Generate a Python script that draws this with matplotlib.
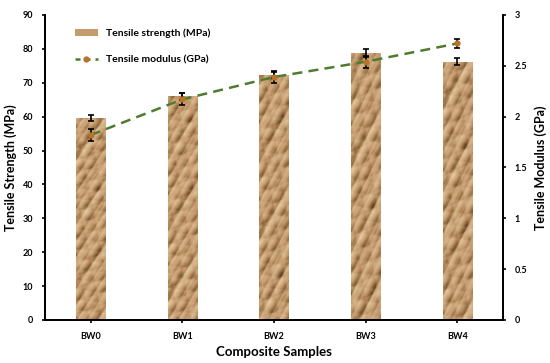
import numpy as np
import matplotlib.pyplot as plt
from matplotlib.lines import Line2D
from matplotlib.patches import Patch
from matplotlib.colors import LinearSegmentedColormap

samples = ["BW0", "BW1", "BW2", "BW3", "BW4"]
strength = [59.5, 66.0, 72.2, 78.7, 76.2]
strength_err = [0.9, 1.1, 0.9, 1.2, 1.1]
modulus = [1.82, 2.17, 2.39, 2.54, 2.72]
modulus_err = [0.06, 0.06, 0.06, 0.06, 0.04]

plt.rcParams['font.family'] = ['Lato', 'DejaVu Sans']
plt.rcParams['font.weight'] = 'bold'

fig = plt.figure(figsize=(5.5, 3.63), dpi=100)
ax1 = fig.add_axes([0.0818, 0.1185, 0.8327, 0.8402])
ax2 = ax1.twinx()

# crumpled paper look for the bars (pure styling, built from sines)
dirs = [(0.9, 0.4, 0.3), (-0.5, 0.8, 1.7), (0.3, -1.1, 2.9), (1.3, 0.9, 0.8),
        (-1.0, -0.6, 4.1), (0.6, 1.5, 5.3), (1.7, -0.3, 0.2), (-0.2, 1.9, 3.3),
        (2.1, 1.2, 1.1), (-1.6, 1.4, 2.2)]


def paper_texture(offset):
    yy, xx = np.mgrid[0:300, 0:40] / 10.0
    yy = yy + offset
    h = np.zeros_like(xx)
    for a, b, p in dirs:
        h += np.abs(np.sin(a * xx * 1.1 + b * yy * 1.1 + p))
    s = np.gradient(h, axis=1) + 0.8 * np.gradient(h, axis=0)
    return (s - s.min()) / (s.max() - s.min())


paper = LinearSegmentedColormap.from_list(
    "paper", ["#5e3f22", "#9c7448", "#c49c70", "#d6b48a", "#e8cca5"])

x = np.arange(len(samples))
width = 0.32
bars = ax1.bar(x, strength, width, color="#cfa97c", zorder=2)
for i, bar in enumerate(bars):
    im = ax1.imshow(paper_texture(7.3 * i), cmap=paper, aspect="auto",
                    extent=[x[i] - width / 2, x[i] + width / 2, 0, strength[i]],
                    zorder=2.5, interpolation="bilinear")
    im.set_clip_path(bar)
ax1.errorbar(x, strength, yerr=strength_err, fmt="none", ecolor="black",
             elinewidth=1.2, capsize=2.5, capthick=1.2, zorder=3)

ax2.errorbar(x, modulus, yerr=modulus_err, fmt="none", ecolor="black",
             elinewidth=1.2, capsize=2.5, capthick=1.2, zorder=3)
ax2.plot(x, modulus, color="#4e7c2e", linestyle=(0, (4, 2.5)), linewidth=1.8,
         marker="o", markersize=3.5, markerfacecolor="#b8742a",
         markeredgecolor="#b8742a", zorder=4)

ax1.set_xlim(-0.5, 4.5)
ax1.set_ylim(0, 90)
ax2.set_ylim(0, 3)
ax1.set_yticks(range(0, 91, 10))
ax2.set_yticks([0, 0.5, 1, 1.5, 2, 2.5, 3])
ax2.set_yticklabels(["0", "0.5", "1", "1.5", "2", "2.5", "3"])
ax1.set_xticks(x)
ax1.set_xticklabels(samples)

for ax in (ax1, ax2):
    ax.spines["top"].set_visible(False)
    for s in ax.spines.values():
        s.set_linewidth(1.3)
    ax.tick_params(labelsize=6.5, length=2.5, width=1.2, pad=6)
ax1.tick_params(axis="x", pad=6)

ax1.set_ylabel("Tensile Strength (MPa)", fontsize=9, fontweight="bold", labelpad=4)
ax2.set_ylabel("Tensile Modulus (GPa)", fontsize=9, fontweight="bold", labelpad=5)
ax1.set_xlabel("Composite Samples", fontsize=9.5, fontweight="bold", labelpad=4)

handles = [Patch(facecolor="#c49c70", edgecolor="none"),
           Line2D([0], [0], color="#4e7c2e", linestyle=(0, (2, 2)), linewidth=1.8,
                  marker="o", markersize=3.5, markerfacecolor="#b8742a",
                  markeredgecolor="#b8742a")]
ax2.legend(handles, ["Tensile strength (MPa)", "Tensile modulus (GPa)"],
           loc="upper left", bbox_to_anchor=(0.045, 0.985), frameon=False,
           handlelength=2.2, labelspacing=1.6,
           prop={"weight": "bold", "size": 7.5})

fig.savefig("out.png", dpi=100)
